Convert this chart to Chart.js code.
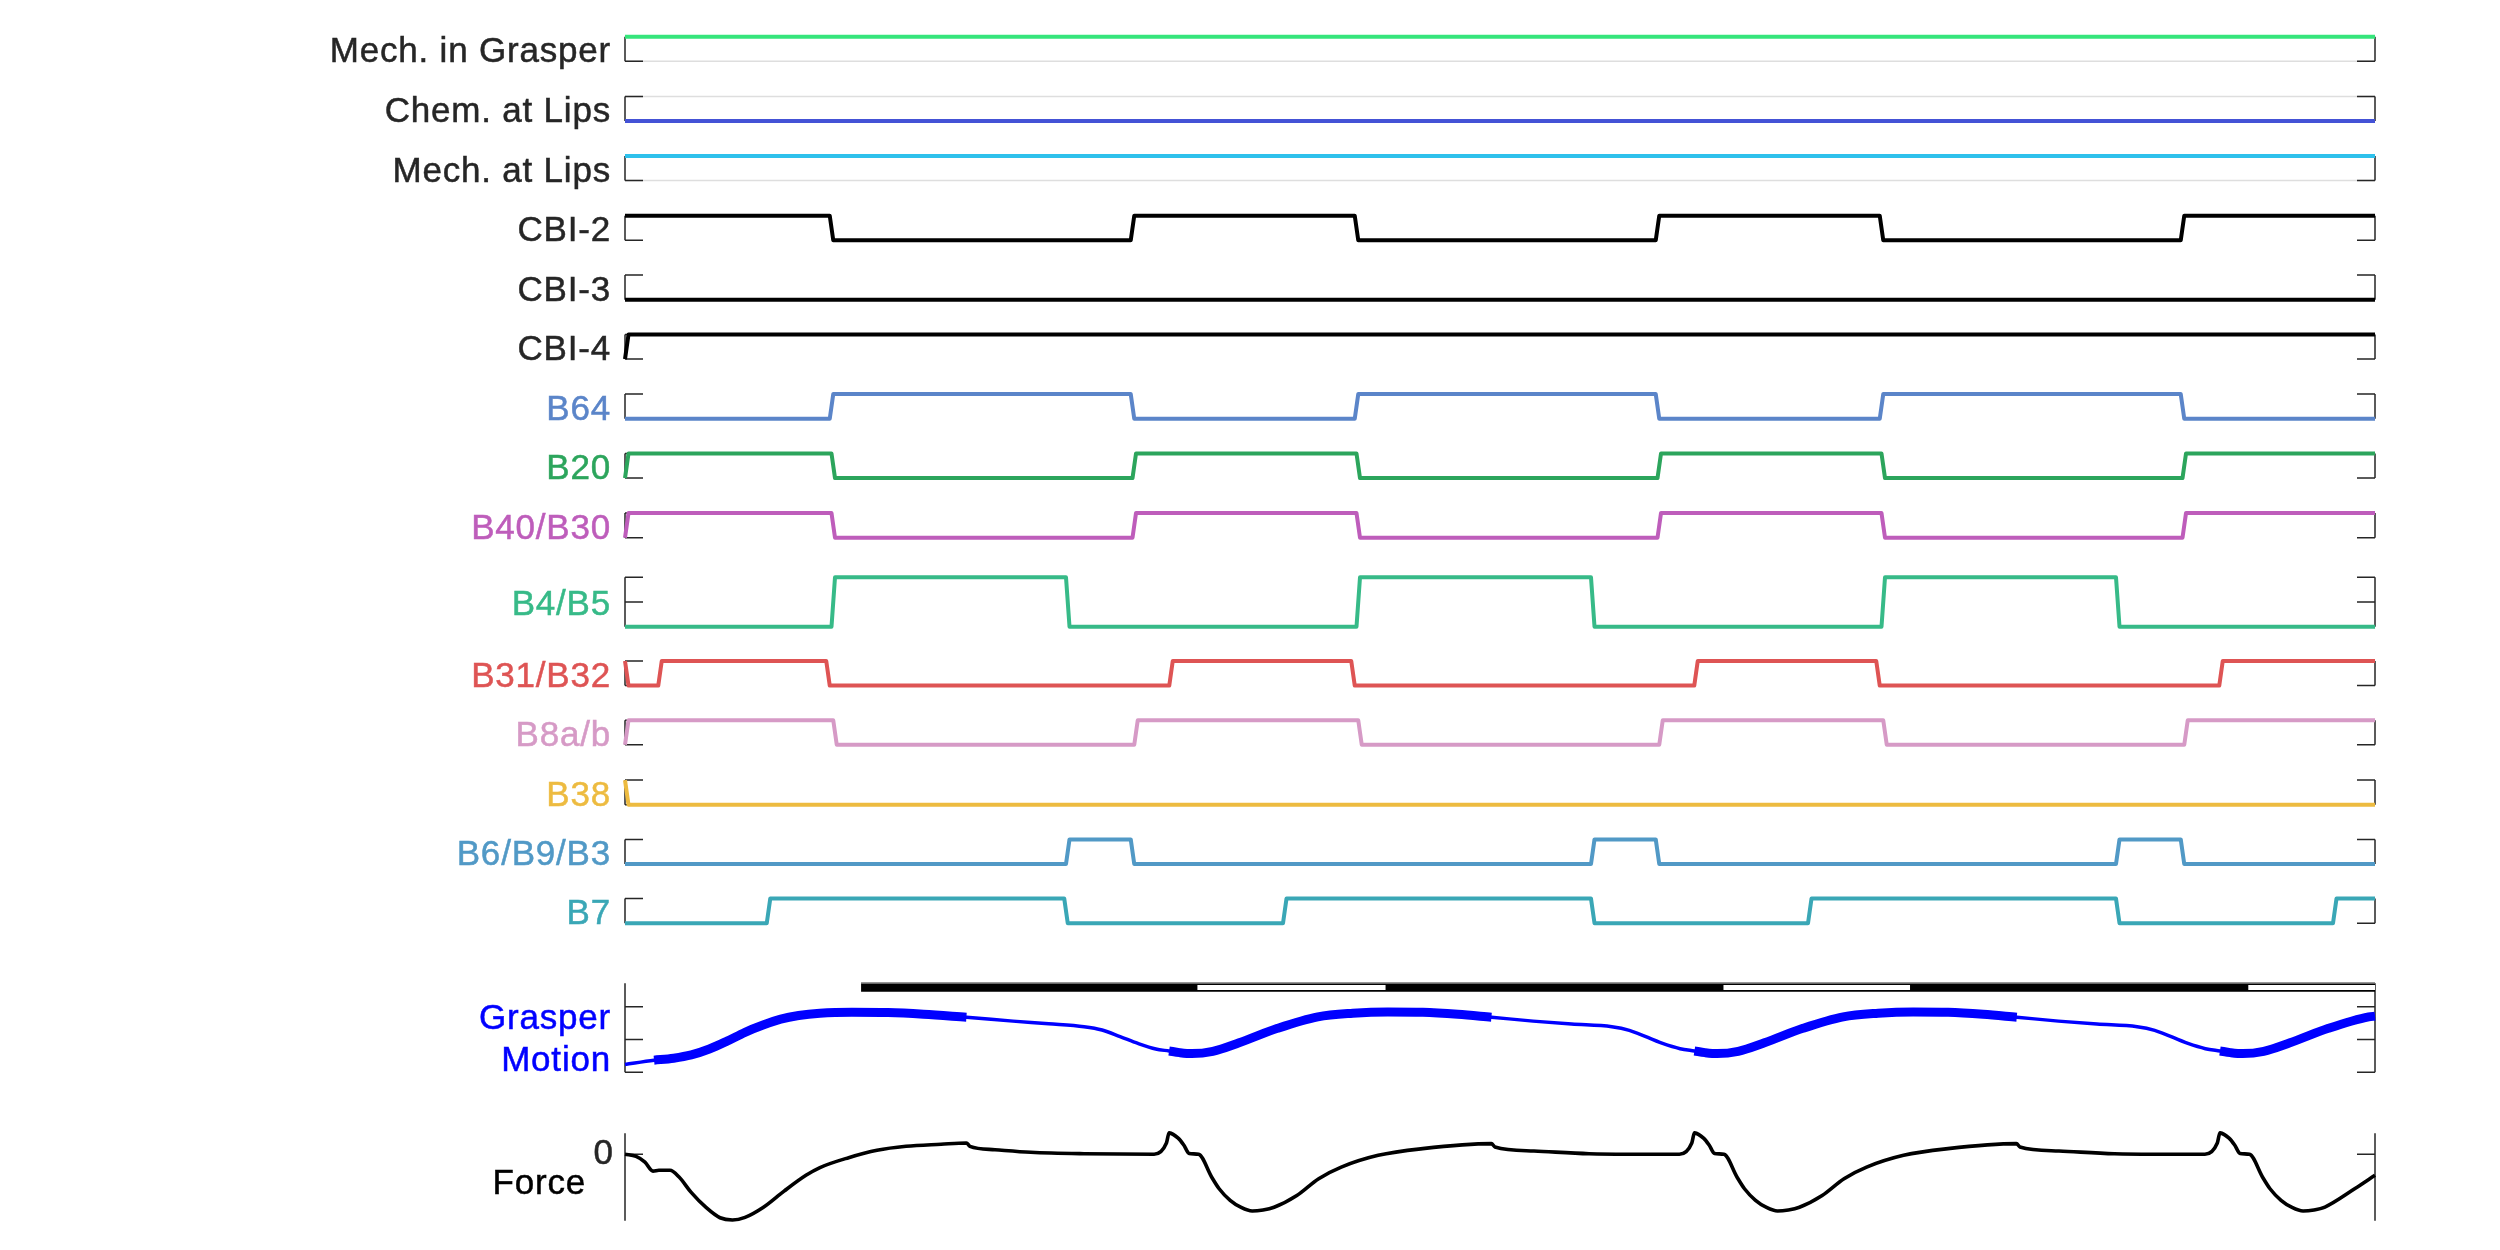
<!DOCTYPE html>
<html>
<head>
<meta charset="utf-8">
<script src="https://cdn.jsdelivr.net/npm/chart.js@4.4.1/dist/chart.umd.min.js"></script>
<style>
  html, body { margin: 0; padding: 0; background: #ffffff; }
  #wrap { position: relative; width: 2500px; height: 1250px; overflow: hidden; background: #ffffff; }
  #wrap canvas { position: absolute; left: 0; }
</style>
</head>
<body>
<div id="wrap"></div>
<script>
// ---------------- DATA ----------------
const timeMin = 0;
const timeMax = 10;          // seconds shown on the (hidden) time axis

const rowNames = ['Mech. in Grasper', 'Chem. at Lips', 'Mech. at Lips', 'CBI-2', 'CBI-3', 'CBI-4',
                  'B64', 'B20', 'B40/B30', 'B4/B5', 'B31/B32', 'B8a/b', 'B38', 'B6/B9/B3', 'B7'];

// level at t = 0 (0 = off, 1 = on) and the times at which each trace switches level
const startLevels = [1, 0, 1, 1, 0, 0, 0, 0, 0, 0, 1, 0, 1, 0, 0];
const edgesMechGrasper = [];
const edgesChemLips    = [];
const edgesMechLips    = [];
const edgesCBI2        = [1.17, 2.89, 4.17, 5.89, 7.17, 8.89];
const edgesCBI3        = [];
const edgesCBI4        = [0];
const edgesB64         = [1.17, 2.89, 4.17, 5.89, 7.17, 8.89];
const edgesB20         = [0, 1.18, 2.90, 4.18, 5.90, 7.18, 8.90];
const edgesB40B30      = [0, 1.18, 2.90, 4.18, 5.90, 7.18, 8.90];
const edgesB4B5        = [1.18, 2.52, 4.18, 5.52, 7.18, 8.52];
const edgesB31B32      = [0, 0.19, 1.15, 3.11, 4.15, 6.11, 7.15, 9.11];
const edgesB8ab        = [0, 1.19, 2.91, 4.19, 5.91, 7.19, 8.91];
const edgesB38         = [0];
const edgesB6B9B3      = [2.52, 2.89, 5.52, 5.89, 8.52, 8.89];
const edgesB7          = [0.81, 2.51, 3.76, 5.52, 6.76, 8.52, 9.76];
const rampDuration     = 0.02;   // every switch takes ~20 ms

// light reference line at the opposite level (first three rows only)
const referenceLevels = [0, 1, 0, null, null, null, null, null, null, null, null, null, null, null, null];
const rowTicks = [[0,1],[0,1],[0,1],[0,1],[0,1],[0,1],[0,1],[0,1],[0,1],[0,0.5,1],[0,1],[0,1],[0,1],[0,1],[0,1]];

// Grasper motion
const grasperT = [0, 0.166, 0.278, 0.379, 0.482, 0.583, 0.686, 0.789, 0.89, 0.992, 1.114, 1.297, 1.503, 1.706, 1.951,
  2.217, 2.421, 2.623, 2.726, 2.829, 2.931, 3.033,
  3.109, 3.169, 3.239, 3.359, 3.509, 3.729, 3.959, 4.159, 4.359, 4.559, 4.759, 4.951,
  5.189, 5.409, 5.639, 5.739, 5.929, 6.029,
  6.111, 6.171, 6.241, 6.361, 6.511, 6.731, 6.961, 7.161, 7.361, 7.561, 7.761, 7.953,
  8.191, 8.411, 8.641, 8.741, 8.931, 9.031,
  9.114, 9.174, 9.244, 9.364, 9.514, 9.734, 9.964, 10.0];
const grasperV = [0.24, 0.37, 0.43, 0.53, 0.71, 0.95, 1.22, 1.44, 1.62, 1.73, 1.80, 1.83, 1.82, 1.77, 1.68,
  1.56, 1.48, 1.39, 1.29, 1.09, 0.88, 0.71,
  0.65, 0.60, 0.57, 0.64, 0.90, 1.34, 1.69, 1.80, 1.84, 1.83, 1.77, 1.68,
  1.56, 1.47, 1.39, 1.28, 0.88, 0.72,
  0.65, 0.60, 0.57, 0.64, 0.90, 1.34, 1.69, 1.80, 1.84, 1.83, 1.77, 1.68,
  1.56, 1.47, 1.39, 1.28, 0.88, 0.72,
  0.65, 0.60, 0.57, 0.64, 0.90, 1.34, 1.69, 1.71];
const grasperBold = [[0.166, 1.951], [3.109, 4.951], [6.111, 7.953], [9.114, 10.0]];
const grasperClosed = [[1.349, 3.271], [4.346, 6.277], [7.343, 9.276]];   // black bar
const grasperOpen   = [[3.271, 4.346], [6.277, 7.343], [9.276, 10.0]];    // white bar
const grasperTicks = [0, 1, 2];

// Force
const forceT = [0, 0.063, 0.114, 0.16, 0.194, 0.257, 0.309, 0.377, 0.463, 0.543, 0.614, 0.686, 0.789, 0.909, 1.034,
  1.114, 1.278, 1.44, 1.606, 1.806, 1.951, 1.971, 2.114, 2.318, 2.623, 3.023,
  3.094, 3.109, 3.161, 3.193, 3.224, 3.278, 3.352, 3.395, 3.458, 3.521, 3.584, 3.646, 3.709, 3.839, 3.964,
  4.093, 4.304, 4.558, 4.951, 4.971, 5.194, 5.509, 6.025,
  6.096, 6.111, 6.163, 6.195, 6.226, 6.28, 6.354, 6.397, 6.46, 6.523, 6.586, 6.648, 6.711, 6.841, 6.966,
  7.095, 7.306, 7.56, 7.951, 7.971, 8.194, 8.511, 9.028,
  9.099, 9.114, 9.166, 9.198, 9.229, 9.283, 9.357, 9.4, 9.463, 9.526, 9.589, 9.651, 9.714, 9.886, 10.0];
const forceV = [0, -0.10, -0.37, -0.80, -0.76, -0.76, -1.08, -1.80, -2.53, -3.02, -3.13, -3.00, -2.53, -1.75, -1.00,
  -0.63, -0.16, 0.19, 0.38, 0.48, 0.54, 0.38, 0.22, 0.10, 0.03, 0,
  0.54, 1.02, 0.77, 0.44, 0.04, 0, -1.08, -1.64, -2.19, -2.53, -2.70, -2.65, -2.52, -1.96, -1.16,
  -0.61, -0.05, 0.27, 0.51, 0.35, 0.16, 0.03, 0,
  0.54, 1.02, 0.77, 0.44, 0.04, 0, -1.08, -1.64, -2.19, -2.53, -2.70, -2.65, -2.52, -1.96, -1.16,
  -0.61, -0.05, 0.27, 0.51, 0.35, 0.16, 0.03, 0,
  0.54, 1.02, 0.77, 0.44, 0.04, 0, -1.08, -1.64, -2.19, -2.53, -2.70, -2.65, -2.51, -1.63, -1.00];
const forceTicks = [0];
const forceTickLabels = ['0'];

// ---------------- STYLE / LAYOUT ----------------
const rowEdges = [edgesMechGrasper, edgesChemLips, edgesMechLips, edgesCBI2, edgesCBI3, edgesCBI4, edgesB64, edgesB20,
                  edgesB40B30, edgesB4B5, edgesB31B32, edgesB8ab, edgesB38, edgesB6B9B3, edgesB7];
const lineColors = ['#35e57b', '#4452d6', '#2ec1ec', '#000000', '#000000', '#000000', '#5b85c9', '#2ca55c',
                    '#be5dbb', '#37ba88', '#de5454', '#d69ac6', '#edbb40', '#5199c6', '#3aa7b6'];
const labelColors = ['#262626', '#262626', '#262626', '#262626', '#262626', '#262626', '#5b85c9', '#2ca55c',
                     '#be5dbb', '#37ba88', '#de5454', '#d69ac6', '#edbb40', '#5199c6', '#3aa7b6'];
const rowCenters = [49, 108.7, 168.2, 228.0, 287.4, 346.8, 406.4, 465.8, 525.4, 602.0, 673.3, 732.5, 792.4, 851.7, 910.9];
const rowHalf = [12.3, 12.3, 12.3, 12.3, 12.3, 12.3, 12.3, 12.3, 12.3, 24.7, 12.3, 12.3, 12.3, 12.3, 12.3];
const PLOT_LEFT = 625, PLOT_RIGHT = 2375, TICK_LEN = 18;
const LABEL_FONT = '35px "Liberation Sans", Arial, Helvetica, sans-serif';

// ---------------- helpers ----------------
function stepPoints(start, edges) {
  const pts = [{x: timeMin, y: start}];
  let v = start;
  for (const e of edges) {
    pts.push({x: e, y: v});
    v = 1 - v;
    pts.push({x: e + rampDuration, y: v});
  }
  pts.push({x: timeMax, y: v});
  return pts;
}
function intervalSegments(intervals, yv) {
  const d = [];
  intervals.forEach(([a, b]) => { d.push({x: a, y: yv}, {x: b, y: yv}, {x: b, y: null}); });
  return d;
}
function inIntervals(t, intervals) { return intervals.some(([a, b]) => t >= a - 1e-9 && t <= b + 1e-9); }

const matlabAxes = {
  id: 'matlabAxes',
  beforeDatasetsDraw(chart, args, o) {
    if (!o || !o.ticks) return;
    const {ctx, chartArea: a} = chart;
    const y = chart.scales.y;
    ctx.save();
    if (o.refLine != null) {
      const yy = y.getPixelForValue(o.refLine);
      ctx.strokeStyle = '#dedede'; ctx.lineWidth = 1.5;
      ctx.beginPath(); ctx.moveTo(a.left, yy); ctx.lineTo(a.right, yy); ctx.stroke();
    }
    ctx.strokeStyle = '#262626'; ctx.lineWidth = 1.5; ctx.lineCap = 'butt';
    ctx.beginPath();
    ctx.moveTo(a.left, a.top); ctx.lineTo(a.left, a.bottom);
    ctx.moveTo(a.right, a.top); ctx.lineTo(a.right, a.bottom);
    for (const t of o.ticks) {
      const yy = y.getPixelForValue(t);
      ctx.moveTo(a.left, yy); ctx.lineTo(a.left + TICK_LEN, yy);
      ctx.moveTo(a.right - TICK_LEN, yy); ctx.lineTo(a.right, yy);
    }
    ctx.stroke();
    ctx.restore();
  },
  afterDraw(chart, args, o) {
    if (!o || !o.labels) return;
    const ctx = chart.ctx;
    ctx.save();
    for (const L of o.labels) {
      ctx.font = L.font || LABEL_FONT;
      ctx.fillStyle = L.color;
      ctx.strokeStyle = L.color;
      ctx.lineWidth = 0.5;
      ctx.textAlign = 'right';
      ctx.textBaseline = 'alphabetic';
      try { ctx.letterSpacing = L.spacing || '0.8px'; } catch (e) {}
      let yy;
      if (L.value != null) yy = chart.scales.y.getPixelForValue(L.value) + L.dy;
      else yy = L.pageY - o.canvasTop;
      ctx.fillText(L.text, L.x, yy);
      ctx.strokeText(L.text, L.x, yy);
    }
    ctx.restore();
  }
};
Chart.register(matlabAxes);

const wrap = document.getElementById('wrap');
function makeChart(top, bottom, cfg) {
  const PAD = 20;
  const cTop = Math.floor(top) - PAD;
  const cBot = Math.ceil(bottom) + PAD;
  const canvas = document.createElement('canvas');
  canvas.width = 2500; canvas.height = cBot - cTop;
  canvas.style.top = cTop + 'px';
  canvas.style.width = '2500px'; canvas.style.height = (cBot - cTop) + 'px';
  wrap.appendChild(canvas);
  return new Chart(canvas, {
    type: 'line',
    data: {datasets: cfg.datasets},
    options: {
      responsive: false, animation: false, events: [], devicePixelRatio: 1,
      layout: {padding: {left: PLOT_LEFT, right: 2500 - PLOT_RIGHT, top: top - cTop, bottom: cBot - bottom}},
      elements: {point: {radius: 0}},
      scales: {
        x: {type: 'linear', min: timeMin, max: timeMax, display: false},
        y: {type: 'linear', min: cfg.min, max: cfg.max, display: false}
      },
      plugins: {
        legend: {display: false}, tooltip: {enabled: false},
        matlabAxes: Object.assign({canvasTop: cTop}, cfg.axes)
      }
    }
  });
}

// ---------------- digital rows ----------------
rowNames.forEach((name, i) => {
  const top = rowCenters[i] - rowHalf[i], bottom = rowCenters[i] + rowHalf[i];
  makeChart(top, bottom, {
    min: 0, max: 1,
    datasets: [{
      data: stepPoints(startLevels[i], rowEdges[i]),
      borderColor: lineColors[i], borderWidth: 4, pointRadius: 0, tension: 0,
      borderJoinStyle: 'round', borderCapStyle: 'butt', clip: false
    }],
    axes: {
      ticks: rowTicks[i], refLine: referenceLevels[i],
      labels: [{text: name, color: labelColors[i], x: 611, pageY: rowCenters[i] + 13.3}]
    }
  });
});

// ---------------- grasper motion ----------------
const grasperPts = grasperT.map((t, k) => ({x: t, y: grasperV[k]}));
const grasperBoldPts = grasperT.map((t, k) => ({x: t, y: inIntervals(t, grasperBold) ? grasperV[k] : null}));
makeChart(983.3, 1072.3, {
  min: 0, max: 2.713,
  datasets: [
    {data: intervalSegments(grasperClosed.concat(grasperOpen), 2.72), borderColor: '#8a8a8a', borderWidth: 1.6,
     pointRadius: 0, spanGaps: false, clip: false, order: 1, borderCapStyle: 'butt'},
    {data: intervalSegments(grasperOpen, 2.585), borderColor: '#ffffff', borderWidth: 5,
     pointRadius: 0, spanGaps: false, clip: false, order: 2, borderCapStyle: 'butt'},
    {data: intervalSegments(grasperClosed.concat(grasperOpen), 2.59), borderColor: '#000000', borderWidth: 9,
     pointRadius: 0, spanGaps: false, clip: false, order: 3, borderCapStyle: 'butt'},
    {data: grasperBoldPts, borderColor: '#0000ff', borderWidth: 9, pointRadius: 0,
     cubicInterpolationMode: 'monotone', spanGaps: false, clip: false, order: 4, borderCapStyle: 'butt'},
    {data: grasperPts, borderColor: '#0000ff', borderWidth: 3.5, pointRadius: 0,
     cubicInterpolationMode: 'monotone', clip: false, order: 5}
  ],
  axes: {
    ticks: grasperTicks,
    labels: [
      {text: 'Grasper', color: '#0000ff', x: 611, pageY: 1029},
      {text: 'Motion', color: '#0000ff', x: 611, pageY: 1071}
    ]
  }
});

// ---------------- force ----------------
makeChart(1133.3, 1220.7, {
  min: -3.16, max: 1.0,
  datasets: [{
    data: forceT.map((t, k) => ({x: t, y: forceV[k]})),
    borderColor: '#000000', borderWidth: 3.6, pointRadius: 0,
    cubicInterpolationMode: 'monotone', clip: false, borderJoinStyle: 'round'
  }],
  axes: {
    ticks: forceTicks,
    labels: [
      {text: forceTickLabels[0], color: '#262626', x: 613, value: forceTicks[0], dy: 10, spacing: '0px'},
      {text: 'Force', color: '#000000', x: 586, pageY: 1194}
    ]
  }
});
</script>
</body>
</html>
